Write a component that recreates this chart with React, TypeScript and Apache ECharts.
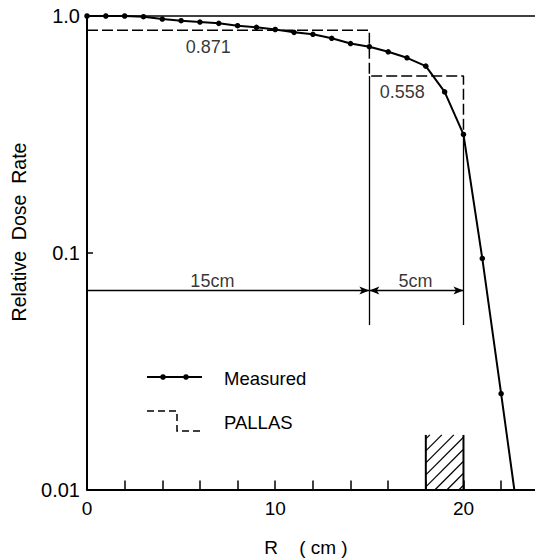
import React, { useEffect, useRef } from "react";
import * as echarts from "echarts";

// Measured relative dose rate at integer radii (cm)
const R_CM = [0, 1, 2, 3, 4, 5, 6, 7, 8, 9, 10, 11, 12, 13, 14, 15, 16, 17, 18, 19, 20, 21, 22];
const MEASURED = [1.0, 1.0, 1.0, 0.993, 0.971, 0.955, 0.943, 0.931, 0.91, 0.896, 0.877, 0.853, 0.837, 0.805, 0.765, 0.742, 0.706, 0.666, 0.614, 0.478, 0.316, 0.0946, 0.0254];
// where the measured curve meets the bottom of the plot
const TAIL_R = 22.7;
const TAIL_V = 0.01;

// PALLAS step calculation
const PALLAS_R = [0, 15, 15, 20, 20];
const PALLAS_V = [0.871, 0.871, 0.558, 0.558, 0.316];
const PALLAS_LABELS = ["0.871", "0.558"];
const PALLAS_LABEL_R = [6.44, 16.75];
const PALLAS_LABEL_V = [0.739, 0.477];

// dimension arrows
const DIM_LABELS = ["15cm", "5cm"];
const DIM_START = [0, 15];
const DIM_END = [15, 20];
const DIM_V = 0.0693;
const DIM_LABEL_V = 0.0763;
const DIM_MARK_TOP = [0.558, 0.316];
const DIM_MARK_BOTTOM = 0.0495;

// hatched region
const HATCH = [18, 20, 0.017, 0.01];

const X_TICK_LABELS = ["0", "10", "20"];
const Y_TICK_LABELS = ["0.01", "0.1", "1.0"];

const FONT = "'Liberation Sans', Arial, Helvetica, sans-serif";

export default function App() {
  const ref = useRef<HTMLDivElement>(null);
  useEffect(() => {
    document.body.style.margin = "0";
    const chart = echarts.init(ref.current!, undefined, { renderer: "svg" });
    const measuredData: any[] = R_CM.map((r, i) => [r, MEASURED[i]]);
    measuredData.push({ value: [TAIL_R, TAIL_V], symbol: "none" });

    const annData = PALLAS_LABELS.map((t, i) => ({
      name: t,
      value: [PALLAS_LABEL_R[i], PALLAS_LABEL_V[i]],
    })).concat(
      DIM_LABELS.map((t, i) => ({
        name: t,
        value: [(DIM_START[i] + DIM_END[i]) / 2 - (i === 0 ? 0.84 : 0.05), DIM_LABEL_V],
      }))
    );

    const markLines: any[] = [
      [
        { coord: [DIM_START[0], DIM_V], symbol: "none" },
        { coord: [DIM_END[0], DIM_V], symbol: "arrow" },
      ],
      [
        { coord: [DIM_START[1], DIM_V], symbol: "arrow" },
        { coord: [DIM_END[1], DIM_V], symbol: "arrow" },
      ],
      [
        { coord: [DIM_START[1], DIM_MARK_TOP[0]], symbol: "none" },
        { coord: [DIM_START[1], DIM_MARK_BOTTOM], symbol: "none" },
      ],
      [
        { coord: [DIM_END[1], DIM_MARK_TOP[1]], symbol: "none" },
        { coord: [DIM_END[1], DIM_MARK_BOTTOM], symbol: "none" },
      ],
    ];

    const option: any = {
      animation: false,
      backgroundColor: "#fff",
      textStyle: { fontFamily: FONT, color: "#000" },
      grid: { left: 87, right: 0, top: 16, bottom: 70.5, containLabel: false },
      xAxis: {
        type: "value",
        min: 0,
        max: 23.8,
        interval: 2,
        axisLine: { lineStyle: { color: "#000", width: 2 } },
        axisTick: { inside: true, length: 9, lineStyle: { color: "#000", width: 1.5 } },
        splitLine: { show: false },
        axisLabel: {
          color: "#000",
          fontSize: 19,
          fontFamily: FONT,
          margin: 9,
          showMaxLabel: false,
          formatter: (v: number) => {
            const idx = [0, 10, 20].indexOf(Math.round(v));
            return Math.abs(v - Math.round(v)) < 1e-6 && idx >= 0 ? X_TICK_LABELS[idx] : "";
          },
        },
      },
      yAxis: {
        type: "log",
        logBase: 10,
        min: 0.01,
        max: 1,
        axisLine: { lineStyle: { color: "#000", width: 2 } },
        axisTick: { inside: true, length: 6, lineStyle: { color: "#000", width: 1.5 } },
        minorTick: { show: false },
        splitLine: { show: false },
        axisLabel: {
          color: "#000",
          fontSize: 20,
          fontFamily: FONT,
          margin: 7,
          formatter: (v: number) => (v > 0.5 ? Y_TICK_LABELS[2] : v > 0.05 ? Y_TICK_LABELS[1] : Y_TICK_LABELS[0]),
        },
      },
      graphic: [
        {
          type: "text",
          x: 19,
          y: 232,
          rotation: Math.PI / 2,
          style: {
            text: "Relative  Dose  Rate",
            fontSize: 19.5,
            fontFamily: FONT,
            fill: "#000",
            align: "center",
            verticalAlign: "middle",
          },
        },
        {
          type: "text",
          x: 306,
          y: 547,
          style: {
            text: "R    ( cm )",
            fontSize: 19,
            fontFamily: FONT,
            fill: "#000",
            align: "center",
            verticalAlign: "middle",
          },
        },
        // legend
        { type: "line", shape: { x1: 147, y1: 377, x2: 202, y2: 377 }, style: { stroke: "#000", lineWidth: 2 } },
        { type: "circle", shape: { cx: 163, cy: 377, r: 2.8 }, style: { fill: "#000" } },
        { type: "circle", shape: { cx: 186, cy: 377, r: 2.8 }, style: { fill: "#000" } },
        {
          type: "text",
          x: 224,
          y: 378,
          style: { text: "Measured", fontSize: 18.5, fontFamily: FONT, fill: "#000", verticalAlign: "middle" },
        },
        {
          type: "polyline",
          shape: { points: [[147, 411], [177, 411], [177, 431], [202, 431]] },
          style: { stroke: "#000", lineWidth: 1.5, lineDash: [7, 4], fill: null },
        },
        {
          type: "text",
          x: 224,
          y: 422,
          style: { text: "PALLAS", fontSize: 18.5, fontFamily: FONT, fill: "#000", verticalAlign: "middle" },
        },
      ],
      series: [
        {
          name: "Measured",
          type: "line",
          data: measuredData,
          symbol: "circle",
          symbolSize: 5.5,
          itemStyle: { color: "#000" },
          lineStyle: { color: "#000", width: 2 },
          z: 5,
          markLine: {
            silent: true,
            symbol: "none",
            label: { show: false },
            lineStyle: { color: "#000", width: 1.5, type: "solid" },
            data: [{ yAxis: 1 }],
          },
        },
        {
          name: "PALLAS",
          type: "line",
          data: PALLAS_R.map((r, i) => [r, PALLAS_V[i]]),
          showSymbol: false,
          symbol: "none",
          lineStyle: { color: "#000", width: 1.5, type: [11, 4] },
          z: 3,
        },
        {
          name: "dims",
          type: "line",
          data: [],
          markLine: {
            silent: true,
            symbolSize: [6, 10],
            label: { show: false },
            lineStyle: { color: "#000", width: 1.3, type: "solid" },
            data: markLines,
          },
        },
        {
          name: "labels",
          type: "scatter",
          data: annData,
          symbolSize: 0,
          label: {
            show: true,
            position: "inside",
            formatter: (p: any) => p.name,
            color: "#000",
            textBorderWidth: 0,
            fontSize: 18,
            fontFamily: FONT,
          },
          z: 6,
        },
        {
          name: "hatch",
          type: "custom",
          data: [HATCH],
          encode: { x: [0, 1], y: [2, 3] },
          renderItem: (params: any, api: any) => {
            const pBL = api.coord([api.value(0), api.value(3)]);
            const pTR = api.coord([api.value(1), api.value(2)]);
            const xL = pBL[0], xR = pTR[0], yT = pTR[1], yB = pBL[1];
            const children: any[] = [
              { type: "line", shape: { x1: xL, y1: yT, x2: xL, y2: yB }, style: { stroke: "#000", lineWidth: 2 } },
              { type: "line", shape: { x1: xR, y1: yT, x2: xR, y2: yB }, style: { stroke: "#000", lineWidth: 2 } },
            ];
            const step = 12;
            for (let c = xL + yT + 4; c < xR + yB; c += step) {
              const xa = Math.max(xL, c - yB);
              const xb = Math.min(xR, c - yT);
              if (xb > xa) {
                children.push({
                  type: "line",
                  shape: { x1: xa, y1: c - xa, x2: xb, y2: c - xb },
                  style: { stroke: "#000", lineWidth: 1.2 },
                });
              }
            }
            return { type: "group", children };
          },
        },
      ],
    };
    chart.setOption(option);
    return () => chart.dispose();
  }, []);
  return (
    <div
      ref={ref}
      style={{ width: 535, height: 560, position: "absolute", left: 0, top: 0 }}
    />
  );
}
